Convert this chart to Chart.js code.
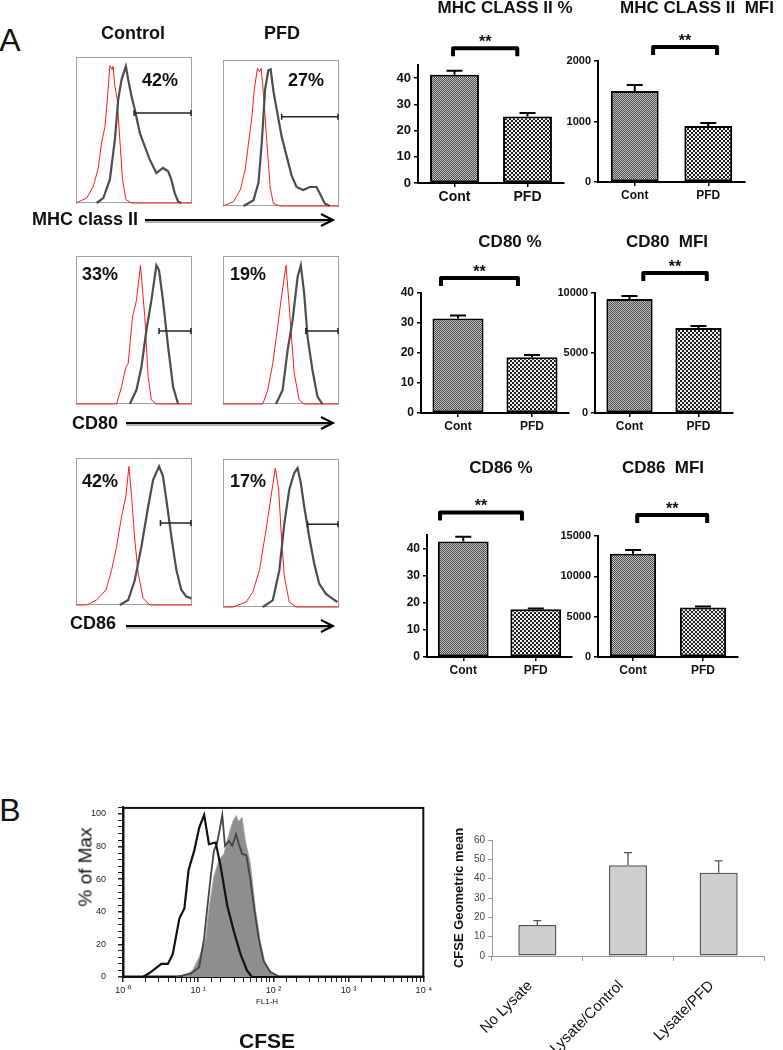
<!DOCTYPE html>
<html>
<head>
<meta charset="utf-8">
<script src="https://cdn.jsdelivr.net/npm/chart.js@4.4.1/dist/chart.umd.min.js"></script>
<style>
  html, body { margin: 0; padding: 0; background: #fff; }
  #fig { position: relative; width: 783px; height: 1050px; overflow: hidden; background: #fff;
         font-family: "Liberation Sans", Arial, sans-serif; }
  #fig canvas { position: absolute; }
  .t { position: absolute; line-height: 1; white-space: pre; color: #111; }
  svg { position: absolute; left: 0; top: 0; }
</style>
</head>
<body>
<div id="fig"></div>
<script>
// ---------- Panel A histograms: [channel 0-100, % of max] ----------
const mhcCtrlRed  = [[0,0],[9.2,3.4],[14.9,11.4],[19.2,24],[22,41],[25,52.5],[27,70.8],[29.2,94],[31.2,91.3],[32,93.6],[33.5,80],[35.5,70.8],[37.8,43.4],[40.1,16],[43,2.3],[47.9,0],[100,0]];
const mhcCtrlGray = [[17.8,0],[23.5,3.4],[29.2,16],[33.5,43.4],[36.4,70.8],[39.3,84.5],[43,93.6],[45,84.5],[47.9,73],[50.7,64],[55,48],[59.3,38.8],[63.6,29.7],[69.3,20.5],[75,24],[79.4,21.7],[82.2,16],[85.1,6.8],[88,1.1],[90.8,0]];
const mhcPfdRed   = [[0,0],[9.1,3],[14.9,11],[19.1,24.7],[22,43],[24.9,61],[26.9,79.5],[29.7,94.3],[31.4,92],[32.9,94.3],[34.9,77],[37.7,45],[40.6,13],[43.4,1.8],[49,0],[100,0]];
const mhcPfdGray  = [[17.7,0],[26.3,4],[30.6,16],[33.4,43],[36.3,80],[39.1,93],[41.1,93.6],[43.4,79],[46.3,66],[50.6,47.5],[54.9,34],[59.1,21],[63.4,13],[69.1,11],[74.9,13],[80.6,13],[83.4,8.7],[87.7,1.8],[92,0]];
const cd80CtrlRed  = [[0,0],[35,0],[39.3,11.7],[43,25],[45,27.4],[48.7,58.9],[52.1,70],[55.6,93.7],[59.3,58.9],[62.2,18.4],[65,2.7],[69.3,0],[100,0]];
const cd80CtrlGray = [[46.4,0],[52.1,9.4],[56.4,25],[60.7,50],[65,70],[69.3,93.7],[71.6,90.3],[75,70],[79.4,38.7],[83.7,11.7],[88,0]];
const cd80PfdRed   = [[0,0],[34.3,0],[38.6,9.4],[42.9,27.4],[47.1,52],[50,70],[54.3,93.7],[57.1,65.6],[61.4,20.7],[65.7,2.7],[70,0],[100,0]];
const cd80PfdGray  = [[45.7,0],[51.4,9.4],[55.7,36.4],[60,56.6],[64.3,85.8],[67.1,93.7],[70,74.6],[72.9,45.4],[77.1,23],[81.4,5],[85.7,0]];
const cd86CtrlRed  = [[0,0],[9.2,0],[17.8,3.4],[25.8,10.2],[30.7,23.9],[35,39.8],[39.3,60.2],[43,73.9],[45.6,94.3],[47.9,73.9],[50.7,44.3],[53.6,21.6],[57.9,4.5],[63.6,0],[100,0]];
const cd86CtrlGray = [[37.8,0],[45,3.4],[50.7,17],[56.4,39.8],[62.2,67],[66.5,85.2],[71.6,94.3],[75,87.5],[77.9,71.6],[82.2,46.6],[86.5,23.9],[90.8,10.2],[95.1,5.7],[99.4,4.5]];
const cd86PfdRed   = [[0,0],[8.6,0],[20,3.4],[25.7,10.2],[31.4,24.9],[37.1,52],[41.4,74.7],[45.1,93.9],[48,79.2],[50,52],[52.9,20.4],[57.1,3.4],[62.9,0],[100,0]];
const cd86PfdGray  = [[34.3,0],[42.9,4.5],[48.6,24.9],[52.9,56.6],[57.1,79.2],[61.4,90.5],[64.3,93.9],[67.1,83.7],[70,67.9],[74.3,47.5],[78.6,29.4],[82.9,15.8],[88.6,9],[94.3,5.7],[98.6,3.4]];
// gate marker: [start channel, height %]
const gates = [[50.1,61.6],[50.6,61.2],[71.6,49.4],[71.4,49.4],[72.8,55.7],[72.9,55.9]];
const gatePct = ['42%','27%','33%','19%','42%','17%'];

// ---------- Panel A bar charts ----------
const barCats = ['Cont', 'PFD'];
const mhcPct = [41.3, 25.4],  mhcPctErr = [1.5, 1.3];
const mhcMfi = [1505, 926],   mhcMfiErr = [98, 50];
const cd80Pct = [31.5, 18.6], cd80PctErr = [1.0, 0.7];
const cd80Mfi = [9500, 7080], cd80MfiErr = [250, 170];
const cd86Pct = [42.6, 17.6], cd86PctErr = [1.8, 0.3];
const cd86Mfi = [12800, 6150], cd86MfiErr = [450, 100];

// ---------- Panel B ----------
// CFSE histograms: [FL1-H, % of max]
const histBlack = [[1,0],[1.85,0],[2.27,2.6],[3.23,8],[3.95,8],[4.59,14],[5.62,36],[6.55,42],[7.45,65.6],[8.86,77.5],[10.3,91.5],[12.0,99.4],[13.9,81.5],[17.1,82.5],[19.9,67.7],[24.3,43.9],[29.8,28],[36.5,14],[44.5,4],[51.8,0],[10000,0]];
const histDark  = [[5.09,0],[8.02,2.2],[10.3,6],[12.0,24],[12.9,38],[14.7,62],[16.2,77.5],[17.9,82.5],[19.5,91.5],[20.9,99.4],[22.7,80.5],[25.6,83.5],[28.3,80.5],[31.9,87.5],[34.6,81.5],[38.3,75.6],[43.7,74.6],[49.4,59.7],[55.7,41.8],[63.5,24],[73.8,10],[90.5,3.2],[122,0]];
const histFill  = [[6.21,0],[8.41,4],[10.3,12],[12.6,24],[13.9,42],[16.2,62],[18.9,71.6],[22.0,75.6],[25.6,87.5],[28.9,95.4],[31.9,99],[34.6,95.4],[38.3,97.8],[42.4,83.5],[49.4,69.6],[57.5,41.8],[66.8,22],[77.8,8],[95,2.2],[122,0]];
const cfseCats = ['No Lysate', 'Lysate/Control', 'Lysate/PFD'];
const cfseMean = [16, 47, 43];
const cfseErr  = [2.3, 6.5, 6.2];

const FONT = '"Liberation Sans", Arial, sans-serif';
Chart.defaults.font.family = FONT;
Chart.defaults.color = '#111';
const fig = document.getElementById('fig');

function addCanvas(x, y, w, h) {
  const c = document.createElement('canvas');
  c.width = w; c.height = h;
  c.style.left = x + 'px'; c.style.top = y + 'px';
  c.style.width = w + 'px'; c.style.height = h + 'px';
  fig.appendChild(c);
  return c;
}

function addText(txt, x, y, size, weight, align, rot) {
  const d = document.createElement('div');
  d.className = 't';
  d.textContent = txt;
  d.style.left = x + 'px'; d.style.top = y + 'px';
  d.style.fontSize = size + 'px';
  d.style.fontWeight = weight;
  let tr = align === 'l' ? 'translate(0,-50%)' : 'translate(-50%,-50%)';
  if (rot) tr += ' rotate(' + rot + 'deg)';
  d.style.transform = tr;
  fig.appendChild(d);
}

const pts = arr => arr.map(([x, y]) => ({ x, y }));

// plugins
const frame = {
  id: 'frame',
  beforeDatasetsDraw(chart, args, o) {
    const a = chart.chartArea, ctx = chart.ctx;
    ctx.save();
    ctx.strokeStyle = o.color; ctx.lineWidth = o.width;
    ctx.strokeRect(a.left + 0.5, a.top + 0.5, a.right - a.left - 1, a.bottom - a.top - 1);
    ctx.restore();
  }
};

const gateMark = {
  id: 'gateMark',
  afterDatasetsDraw(chart, args, o) {
    const xs = chart.scales.x, ys = chart.scales.y, ctx = chart.ctx;
    const x1 = xs.getPixelForValue(o.x), x2 = xs.getPixelForValue(100) - 1, y = ys.getPixelForValue(o.y);
    ctx.save();
    ctx.strokeStyle = '#222'; ctx.lineWidth = 1.5;
    ctx.beginPath();
    ctx.moveTo(x1, y); ctx.lineTo(x2, y);
    ctx.moveTo(x1, y - 3); ctx.lineTo(x1, y + 3);
    ctx.moveTo(x2, y - 3); ctx.lineTo(x2, y + 3);
    ctx.stroke();
    ctx.restore();
  }
};

const errorBars = {
  id: 'errorBars',
  afterDatasetsDraw(chart, args, o) {
    const ctx = chart.ctx, ys = chart.scales.y;
    chart.data.datasets.forEach((ds, i) => {
      chart.getDatasetMeta(i).data.forEach((bar, j) => {
        const top = ys.getPixelForValue(ds.data[j] + ds.errs[j]);
        ctx.save();
        ctx.strokeStyle = o.color; ctx.lineWidth = o.width;
        ctx.beginPath();
        ctx.moveTo(bar.x, bar.y); ctx.lineTo(bar.x, top);
        ctx.moveTo(bar.x - o.cap / 2, top); ctx.lineTo(bar.x + o.cap / 2, top);
        ctx.stroke();
        ctx.restore();
      });
    });
  }
};

const bracket = {
  id: 'bracket',
  afterDraw(chart, args, o) {
    const xs = chart.scales.x, ys = chart.scales.y, ctx = chart.ctx;
    const x1 = xs.getPixelForValue(o.from), x2 = xs.getPixelForValue(o.to), y = ys.getPixelForValue(o.y);
    ctx.save();
    ctx.strokeStyle = '#000'; ctx.lineWidth = 4; ctx.lineJoin = 'round';
    ctx.beginPath();
    ctx.moveTo(x1, y + 8); ctx.lineTo(x1, y); ctx.lineTo(x2, y); ctx.lineTo(x2, y + 8);
    ctx.stroke();
    ctx.fillStyle = '#111'; ctx.font = 'bold 16px ' + FONT; ctx.textAlign = 'center';
    ctx.fillText('**', (x1 + x2) / 2, y - 1);
    ctx.restore();
  }
};

// ---------- Panel A histograms ----------
const histPanels = [
  { box: [76, 57, 192, 203],  red: mhcCtrlRed,  gray: mhcCtrlGray,  lab: [160, 80] },
  { box: [223, 60, 339, 206], red: mhcPfdRed,   gray: mhcPfdGray,   lab: [306, 80] },
  { box: [76, 256, 192, 404], red: cd80CtrlRed, gray: cd80CtrlGray, lab: [100, 274] },
  { box: [223, 256, 339, 404],red: cd80PfdRed,  gray: cd80PfdGray,  lab: [248, 274] },
  { box: [76, 458, 192, 605], red: cd86CtrlRed, gray: cd86CtrlGray, lab: [100, 481] },
  { box: [223, 459, 339, 607],red: cd86PfdRed,  gray: cd86PfdGray,  lab: [248, 481] }
];

histPanels.forEach((p, i) => {
  const [l, t, r, b] = p.box;
  const cv = addCanvas(l - 2, t - 2, r - l + 4, b - t + 4);
  new Chart(cv, {
    type: 'line',
    data: {
      datasets: [
        { data: pts(p.gray), borderColor: '#4d4d4d', borderWidth: 2.2, pointRadius: 0, clip: false },
        { data: pts(p.red), borderColor: '#ff1a1a', borderWidth: 1, pointRadius: 0, clip: false }
      ]
    },
    options: {
      responsive: false, animation: false, events: [],
      layout: { padding: 2 },
      plugins: {
        legend: { display: false }, tooltip: { enabled: false },
        frame: { color: '#a0a0a0', width: 1 },
        gateMark: { x: gates[i][0], y: gates[i][1] }
      },
      scales: {
        x: { type: 'linear', min: 0, max: 100, display: false },
        y: { min: 0, max: 100, display: false }
      }
    },
    plugins: [frame, gateMark]
  });
  addText(gatePct[i], p.lab[0], p.lab[1], 18, 'bold', 'c');
});

// ---------- Panel A bar charts ----------
function checker(ctx, size, dark, light) {
  const c = document.createElement('canvas');
  c.width = c.height = size * 2;
  const g = c.getContext('2d');
  g.fillStyle = light; g.fillRect(0, 0, size * 2, size * 2);
  g.fillStyle = dark; g.fillRect(0, 0, size, size); g.fillRect(size, size, size, size);
  return ctx.createPattern(c, 'repeat');
}

const barPanels = [
  { vals: mhcPct,  errs: mhcPctErr,  max: 45,    step: 10,   area: [418, 65, 564, 183],  bw: 0.67, tick: 13, lab: 14, br: [-0.02, 0.86, 51.4] },
  { vals: mhcMfi,  errs: mhcMfiErr,  max: 2000,  step: 1000, area: [598, 61, 745, 182],  bw: 0.65, tick: 11, lab: 12, br: [0.25, 1.12, 2231] },
  { vals: cd80Pct, errs: cd80PctErr, max: 40,    step: 10,   area: [421, 293, 569, 413], bw: 0.69, tick: 12, lab: 12, br: [-0.23, 0.81, 45] },
  { vals: cd80Mfi, errs: cd80MfiErr, max: 10000, step: 5000, area: [595, 293, 733, 413], bw: 0.67, tick: 11, lab: 12, br: [0.2, 1.12, 11667] },
  { vals: cd86Pct, errs: cd86PctErr, max: 45,    step: 10,   area: [427, 535, 572, 657], bw: 0.70, tick: 12, lab: 12, br: [-0.32, 0.81, 53.3] },
  { vals: cd86Mfi, errs: cd86MfiErr, max: 15000, step: 5000, area: [598, 536, 738, 657], bw: 0.66, tick: 11, lab: 12, br: [0.06, 1.06, 17600] }
];

barPanels.forEach(p => {
  const [l, t, r, b] = p.area;
  const padL = 55, padT = 45, padR = 12, padB = 26;
  const cv = addCanvas(l - padL, t - padT, r - l + padL + padR, b - t + padT + padB);
  const ctx = cv.getContext('2d');
  new Chart(cv, {
    type: 'bar',
    data: {
      labels: barCats,
      datasets: [{
        data: p.vals, errs: p.errs,
        backgroundColor: [checker(ctx, 1, '#4a4a4a', '#c4c4c4'), checker(ctx, 2, '#1c1c1c', '#f2f2f2')],
        borderColor: '#000', borderWidth: 2, borderSkipped: false,
        barPercentage: p.bw, categoryPercentage: 1
      }]
    },
    options: {
      responsive: false, animation: false, events: [],
      layout: { padding: { top: padT, right: padR, left: 0, bottom: 0 } },
      plugins: {
        legend: { display: false }, tooltip: { enabled: false },
        errorBars: { color: '#000', width: 2, cap: 16 },
        bracket: { from: p.br[0], to: p.br[1], y: p.br[2] }
      },
      scales: {
        x: {
          grid: { offset: false, drawOnChartArea: false, tickLength: 4, color: '#000', lineWidth: 1.5 },
          border: { color: '#000', width: 2 },
          ticks: { font: { weight: 'bold', size: p.lab }, color: '#111', padding: 2 },
          afterFit: s => { s.height = padB; }
        },
        y: {
          min: 0, max: p.max,
          ticks: { stepSize: p.step, includeBounds: false, font: { weight: 'bold', size: p.tick }, color: '#111', padding: 3,
                   callback: v => String(v) },
          grid: { drawOnChartArea: false, tickLength: 4, color: '#000', lineWidth: 1.5 },
          border: { color: '#000', width: 2 },
          afterFit: s => { s.width = padL; }
        }
      }
    },
    plugins: [errorBars, bracket]
  });
});

// ---------- Panel B histogram ----------
const sup = ['\u2070', '\u00B9', '\u00B2', '\u00B3', '\u2074'];
const isDecade = v => Math.abs(Math.log10(v) - Math.round(Math.log10(v))) < 1e-9;

new Chart(addCanvas(70, 790, 365, 220), {
  type: 'line',
  data: {
    datasets: [
      { data: pts(histBlack), borderColor: '#111', borderWidth: 2.2, pointRadius: 0, order: 1 },
      { data: pts(histDark), borderColor: '#444', borderWidth: 1.8, pointRadius: 0, order: 2 },
      { data: pts(histFill), borderColor: '#a8a8a8', borderWidth: 1, backgroundColor: '#8e8e8e', fill: 'origin', pointRadius: 0, order: 3 }
    ]
  },
  options: {
    responsive: false, animation: false, events: [],
    layout: { padding: { top: 11, right: 7, left: 0, bottom: 0 } },
    plugins: { legend: { display: false }, tooltip: { enabled: false }, frame: { color: '#111', width: 2 } },
    scales: {
      x: {
        type: 'logarithmic', min: 1, max: 10000,
        ticks: { autoSkip: false, maxRotation: 0, font: { size: 9 }, color: '#222', padding: 3,
                 callback: v => isDecade(v) ? '10 ' + sup[Math.round(Math.log10(v))] : '' },
        grid: { drawOnChartArea: false, tickLength: 5, color: '#222', lineWidth: c => (c.tick && isDecade(c.tick.value)) ? 1.5 : 1 },
        border: { color: '#111', width: 2 },
        afterFit: s => { s.height = 33; }
      },
      y: {
        min: 0, max: 104,
        ticks: { stepSize: 4, autoSkip: false, font: { size: 9 }, color: '#222', padding: 12,
                 callback: v => v % 20 === 0 ? v : '' },
        grid: { drawOnChartArea: false, tickLength: 5, color: '#222', lineWidth: c => (c.tick && c.tick.value % 20 === 0) ? 1.5 : 1 },
        border: { color: '#111', width: 2 },
        afterFit: s => { s.width = 53; }
      }
    }
  },
  plugins: [frame]
});

// ---------- Panel B bar chart ----------
new Chart(addCanvas(440, 820, 340, 230), {
  type: 'bar',
  data: {
    labels: cfseCats,
    datasets: [{
      data: cfseMean, errs: cfseErr,
      backgroundColor: '#cfcfcf', borderColor: '#555', borderWidth: 1.5, borderSkipped: false,
      barPercentage: 0.42, categoryPercentage: 1
    }]
  },
  options: {
    responsive: false, animation: false, events: [],
    layout: { padding: { top: 20, right: 16, left: 0, bottom: 0 } },
    plugins: { legend: { display: false }, tooltip: { enabled: false }, errorBars: { color: '#555', width: 1.3, cap: 8 } },
    scales: {
      x: {
        grid: { offset: true, drawOnChartArea: false, tickLength: 5, color: '#999' },
        border: { color: '#999', width: 1 },
        ticks: { minRotation: 45, maxRotation: 45, font: { size: 15 }, color: '#111', padding: 16, labelOffset: -7 },
        afterFit: s => { s.height = 94; }
      },
      y: {
        min: 0, max: 60,
        ticks: { stepSize: 10, font: { size: 10 }, color: '#444', padding: 3 },
        grid: { drawOnChartArea: false, tickLength: 4, color: '#999' },
        border: { color: '#999', width: 1 },
        title: { display: true, text: 'CFSE Geometric mean', font: { size: 13, weight: 'bold' }, color: '#111', padding: { top: 12, bottom: 0 } },
        afterFit: s => { s.width = 52; }
      }
    }
  },
  plugins: [errorBars]
});

// ---------- text and arrows ----------
addText('A', 10, 40, 32, 'normal', 'c');
addText('Control', 133, 33, 18, 'bold', 'c');
addText('PFD', 282, 33, 18, 'bold', 'c');
addText('MHC class II', 32, 219, 18, 'bold', 'l');
addText('CD80', 72, 423, 18, 'bold', 'l');
addText('CD86', 70, 623, 18, 'bold', 'l');
addText('MHC CLASS II %', 505, 7, 17, 'bold', 'c');
addText('MHC CLASS II  MFI', 620, 7, 17, 'bold', 'l');
addText('CD80 %', 510, 241, 17, 'bold', 'c');
addText('CD80  MFI', 667, 241, 17, 'bold', 'c');
addText('CD86 %', 501, 467, 17, 'bold', 'c');
addText('CD86  MFI', 663, 467, 17, 'bold', 'c');
addText('B', 10, 810, 32, 'normal', 'c');
addText('% of Max', 85, 867, 19, 'normal', 'c', -90);
addText('FL1-H', 267, 1002, 8, 'normal', 'c');
addText('CFSE', 267, 1040, 21, 'bold', 'c');

const arrows = [[145, 333, 220], [126, 333, 423], [126, 333, 626]];
let svg = '<svg width="783" height="1050" xmlns="http://www.w3.org/2000/svg">';
arrows.forEach(([x1, x2, y]) => {
  svg += `<line x1="${x1}" y1="${y + 2}" x2="${x2 - 2}" y2="${y + 2}" stroke="#9a9a9a" stroke-width="1.5"/>`;
  svg += `<line x1="${x1}" y1="${y}" x2="${x2}" y2="${y}" stroke="#000" stroke-width="2"/>`;
  svg += `<polyline points="${x2 - 12},${y - 6} ${x2},${y} ${x2 - 12},${y + 6}" fill="none" stroke="#000" stroke-width="2"/>`;
});
svg += '</svg>';
fig.insertAdjacentHTML('beforeend', svg);
</script>
</body>
</html>
